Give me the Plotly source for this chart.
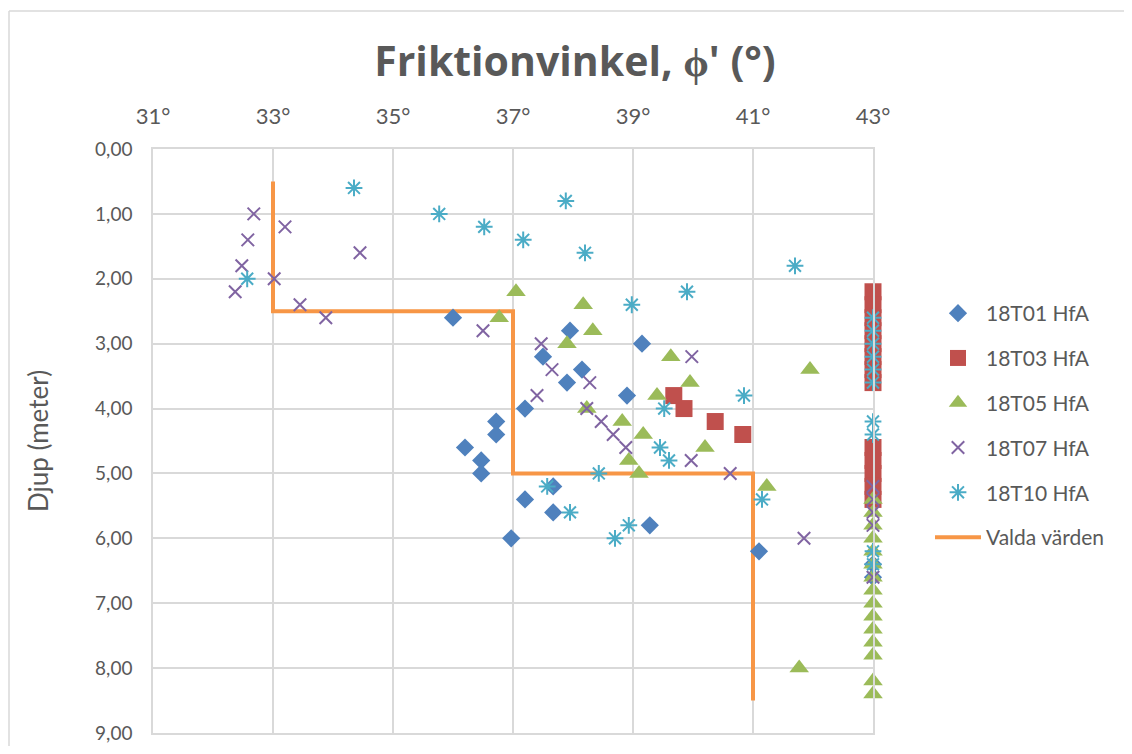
import plotly.graph_objects as go

# ---- data ----
x_tick_vals = [31, 33, 35, 37, 39, 41, 43]
x_tick_text = ["31°", "33°", "35°", "37°", "39°", "41°", "43°"]
y_tick_vals = [0, 1, 2, 3, 4, 5, 6, 7, 8, 9]

t01_phi = [36.0, 37.95, 39.15, 37.5, 38.15, 37.9, 38.9, 37.2, 36.72, 36.72, 36.2, 36.47, 36.47,
           37.67, 37.2, 37.67, 39.28, 36.97, 41.1, 43, 43]
t01_depth = [2.6, 2.8, 3.0, 3.2, 3.4, 3.6, 3.8, 4.0, 4.2, 4.4, 4.6, 4.8, 5.0,
             5.2, 5.4, 5.6, 5.8, 6.0, 6.2, 6.4, 6.6]

t03_phi = [43, 43, 43, 43, 43, 43, 43, 43, 39.68, 39.85, 40.37, 40.83, 43, 43, 43, 43, 43]
t03_depth = [2.2, 2.4, 2.6, 2.8, 3.0, 3.2, 3.4, 3.6, 3.8, 4.0, 4.2, 4.4, 4.6, 4.8, 5.0, 5.2, 5.4]

t05_phi = [37.05, 38.17, 36.77, 38.33, 37.9, 39.63, 41.95, 39.95, 39.4, 38.23, 38.82, 39.17,
           40.2, 38.93, 39.1, 41.23,
           43, 43, 43, 43, 43, 43, 43, 43, 43, 43, 43, 43, 43,
           41.77, 43, 43]
t05_depth = [2.2, 2.4, 2.6, 2.8, 3.0, 3.2, 3.4, 3.6, 3.8, 4.0, 4.2, 4.4,
             4.6, 4.8, 5.0, 5.2,
             5.4, 5.6, 5.8, 6.0, 6.2, 6.4, 6.6, 6.8, 7.0, 7.2, 7.4, 7.6, 7.8,
             8.0, 8.2, 8.4]

t07_phi = [32.68, 33.2, 32.58, 34.45, 32.48, 33.02, 32.37, 33.45, 33.88,
           36.5, 37.47, 39.98, 37.65, 38.28, 37.4, 38.23, 38.47, 38.67, 38.88, 39.97, 40.62,
           43, 43, 43, 43, 41.85, 43]
t07_depth = [1.0, 1.2, 1.4, 1.6, 1.8, 2.0, 2.2, 2.4, 2.6,
             2.8, 3.0, 3.2, 3.4, 3.6, 3.8, 4.0, 4.2, 4.4, 4.6, 4.8, 5.0,
             5.2, 5.4, 5.6, 5.8, 6.0, 6.6]

t10_phi = [34.35, 37.88, 35.77, 36.52, 37.17, 38.2, 41.7, 32.57, 39.9, 38.98,
           43, 43, 43, 43, 43, 43,
           40.85, 39.52, 43, 43, 39.45, 39.6, 38.43, 37.57, 41.15, 37.95, 38.93, 38.7,
           43, 43]
t10_depth = [0.6, 0.8, 1.0, 1.2, 1.4, 1.6, 1.8, 2.0, 2.2, 2.4,
             2.6, 2.8, 3.0, 3.2, 3.4, 3.6,
             3.8, 4.0, 4.2, 4.4, 4.6, 4.8, 5.0, 5.2, 5.4, 5.6, 5.8, 6.0,
             6.2, 6.4]

valda_phi = [33, 33, 37, 37, 41, 41]
valda_depth = [0.5, 2.5, 2.5, 5.0, 5.0, 8.5]

# ---- style ----
FONT = "Lato"
TITLE_FONT = "Open Sans"
TXT = "#595959"
GRID = "#D9D9D9"

fig = go.Figure()

fig.add_trace(go.Scatter(
    x=valda_phi, y=valda_depth, mode="lines", name="Valda värden",
    line=dict(color="#F79646", width=4), legendrank=6, legendgroup="g6"))

fig.add_trace(go.Scatter(
    x=t01_phi, y=t01_depth, mode="markers", name="18T01 HfA", legendrank=1, legendgroup="g1",
    cliponaxis=False,
    marker=dict(symbol="diamond", size=14, color="#4F81BD")))
fig.add_trace(go.Scatter(
    x=t03_phi, y=t03_depth, mode="markers", name="18T03 HfA", legendrank=2, legendgroup="g2",
    cliponaxis=False,
    marker=dict(symbol="square", size=17, color="#C0504D")))
fig.add_trace(go.Scatter(
    x=t05_phi, y=t05_depth, mode="markers", name="18T05 HfA", legendrank=3, legendgroup="g3",
    cliponaxis=False,
    marker=dict(symbol="triangle-up", size=17, color="#9BBB59")))
fig.add_trace(go.Scatter(
    x=t07_phi, y=t07_depth, mode="markers", name="18T07 HfA", legendrank=4, legendgroup="g4",
    cliponaxis=False,
    marker=dict(symbol="x-thin-open", size=12.5, color="#8064A2",
                line=dict(color="#8064A2", width=2))))
fig.add_trace(go.Scatter(
    x=t10_phi, y=t10_depth, mode="markers", name="18T10 HfA", legendrank=5, legendgroup="g5",
    cliponaxis=False,
    marker=dict(symbol="asterisk-open", size=14, color="#4BACC6",
                line=dict(color="#4BACC6", width=2))))

# page has an 8px body margin: figure sits at (8, 8) in the screenshot
OFF = 8
W, H = 1132 - 2 * OFF, 754 - 2 * OFF
PX0, PX1, PY0, PY1 = 153, 873, 149, 733          # plot area in screenshot pixels
L, T = PX0 - OFF, PY0 - OFF
R, B = W - (PX1 - OFF), H - (PY1 - OFF)


def px_x(ix):
    return (ix - PX0) / (PX1 - PX0)


def px_y(iy):
    return (PY1 - iy) / (PY1 - PY0)


fig.update_layout(
    width=W, height=H,
    margin=dict(l=L, r=R, t=T, b=B, autoexpand=False),
    paper_bgcolor="white", plot_bgcolor="white",
    separators=", ",
    font=dict(family=FONT, color=TXT),
    title=dict(text="<b>Friktionvinkel, ϕ' (°)</b>", x=(575 - OFF) / W, xanchor="center",
               y=1 - (62 - OFF) / H, yanchor="middle",
               font=dict(family=TITLE_FONT, size=41, color=TXT)),
    xaxis=dict(range=[31, 43], tickvals=x_tick_vals, ticktext=x_tick_text, side="top",
               showgrid=True, gridcolor=GRID, gridwidth=1.5, zeroline=False,
               showline=True, mirror=True, linecolor=GRID, linewidth=1.5,
               ticks="", ticklabelstandoff=14,
               tickfont=dict(family=FONT, size=22, color=TXT)),
    yaxis=dict(range=[9, 0], tickvals=y_tick_vals, tickformat=".2f",
               showgrid=True, gridcolor=GRID, gridwidth=1.5, zeroline=False,
               showline=True, mirror=True, linecolor=GRID, linewidth=1.5,
               ticks="", ticklabelstandoff=15,
               tickfont=dict(family=FONT, size=19, color=TXT)),
    legend=dict(x=px_x(930), xanchor="left", y=px_y(293), yanchor="top",
                font=dict(family=FONT, size=21, color=TXT),
                traceorder="grouped", tracegroupgap=14.5, itemwidth=46,
                bgcolor="rgba(0,0,0,0)"),
    annotations=[dict(text="Djup (meter)", textangle=-90, xref="paper", yref="paper",
                      x=px_x(38), y=px_y(441), xanchor="center", yanchor="middle",
                      showarrow=False, font=dict(family=FONT, size=26, color=TXT))],
    shapes=[
        dict(type="line", xref="paper", yref="paper", x0=px_x(9), x1=px_x(1140),
             y0=px_y(11), y1=px_y(11), line=dict(color=GRID, width=1.5)),
        dict(type="line", xref="paper", yref="paper", x0=px_x(9), x1=px_x(9),
             y0=px_y(11), y1=px_y(760), line=dict(color=GRID, width=1.5)),
    ],
)

fig.write_html("out.html")
